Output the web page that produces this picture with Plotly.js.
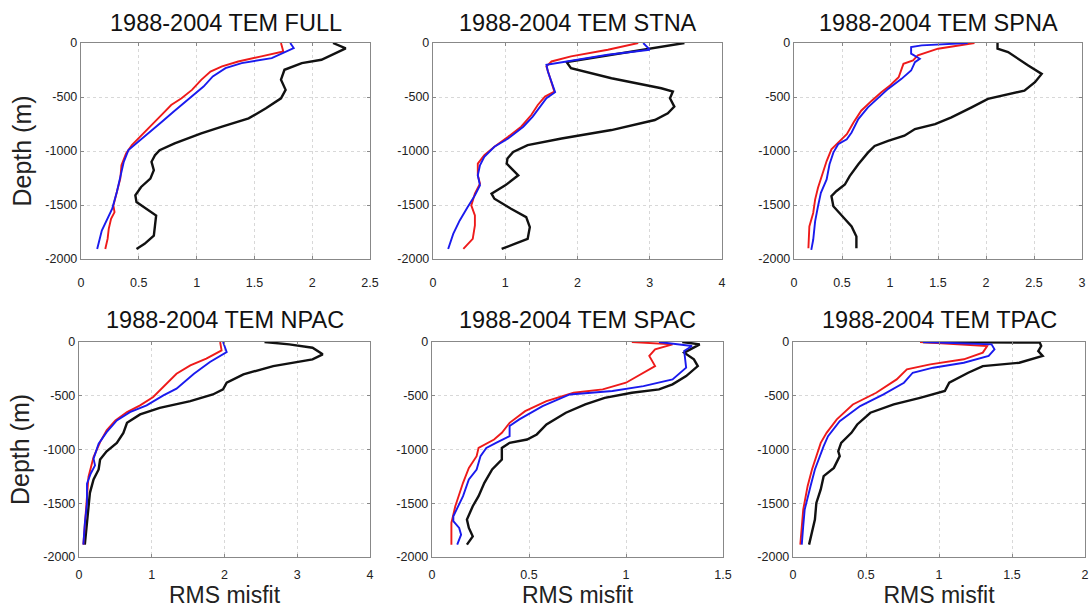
<!DOCTYPE html>
<html>
<head>
<meta charset="utf-8">
<script src="https://cdn.plot.ly/plotly-3.0.1.min.js"></script>
<style>html,body{margin:0;padding:0;background:#fff;}#chart{width:1090px;height:610px;}</style>
</head>
<body>
<div id="chart"></div>
<script>
// ---------- Panel titles ----------
const panelTitles = ["1988-2004 TEM FULL","1988-2004 TEM STNA","1988-2004 TEM SPNA",
                     "1988-2004 TEM NPAC","1988-2004 TEM SPAC","1988-2004 TEM TPAC"];
const xRanges = [[0,2.5],[0,4],[0,3],[0,4],[0,1.5],[0,2]];
const xTicks = [[0,0.5,1,1.5,2,2.5],[0,1,2,3,4],[0,0.5,1,1.5,2,2.5,3],[0,1,2,3,4],[0,0.5,1,1.5],[0,0.5,1,1.5,2]];
const yTickVals = [0,-500,-1000,-1500,-2000];
const yTickText = ["0","-500","-1000","-1500","-2000"];

// ---------- FULL ----------
const full_black_d = [0,-50,-155,-186,-248,-340,-434,-512,-605,-698,-775,-837,-930,-992,-1039,-1100,-1178,-1256,-1333,-1410,-1473,-1535,-1597,-1690,-1783,-1860,-1907];
const full_black_x = [2.18,2.29,2.08,1.91,1.76,1.73,1.77,1.73,1.60,1.45,1.22,1.04,0.81,0.68,0.64,0.61,0.63,0.60,0.52,0.47,0.48,0.57,0.65,0.64,0.63,0.55,0.48];
const full_red_d = [0,-78,-124,-171,-217,-264,-341,-434,-512,-574,-651,-760,-853,-946,-1023,-1132,-1256,-1380,-1504,-1566,-1628,-1721,-1814,-1907];
const full_red_x = [1.73,1.75,1.56,1.36,1.22,1.12,1.04,0.96,0.87,0.78,0.71,0.61,0.52,0.44,0.39,0.35,0.34,0.31,0.28,0.29,0.26,0.24,0.23,0.21];
const full_blue_d = [0,-47,-140,-186,-233,-310,-403,-481,-558,-636,-729,-837,-930,-992,-1101,-1256,-1380,-1535,-1659,-1736,-1907];
const full_blue_x = [1.81,1.84,1.65,1.39,1.25,1.14,1.06,0.97,0.88,0.80,0.70,0.58,0.47,0.41,0.37,0.34,0.31,0.27,0.21,0.18,0.14];

// ---------- STNA ----------
const stna_black_d = [0,-177,-233,-326,-419,-450,-512,-589,-651,-713,-806,-884,-946,-1008,-1070,-1117,-1225,-1318,-1395,-1442,-1535,-1612,-1705,-1814,-1860,-1907];
const stna_black_x = [3.48,1.85,1.91,2.47,3.16,3.32,3.28,3.34,3.25,3.07,2.47,1.78,1.31,1.11,1.03,1.02,1.18,1.00,0.81,0.85,1.08,1.29,1.34,1.31,1.13,0.95];
const stna_red_d = [0,-62,-124,-171,-217,-264,-357,-450,-496,-574,-667,-775,-868,-961,-1039,-1117,-1225,-1302,-1395,-1504,-1597,-1690,-1814,-1907];
const stna_red_x = [2.84,2.42,1.91,1.64,1.57,1.59,1.64,1.68,1.55,1.45,1.36,1.22,1.04,0.85,0.71,0.62,0.62,0.65,0.58,0.53,0.58,0.58,0.55,0.42];
const stna_blue_d = [0,-62,-109,-177,-202,-264,-357,-456,-512,-589,-682,-775,-884,-961,-1054,-1132,-1225,-1318,-1411,-1519,-1643,-1767,-1907];
const stna_blue_x = [2.91,3.00,2.42,1.82,1.57,1.59,1.64,1.69,1.57,1.48,1.38,1.25,1.04,0.85,0.71,0.65,0.62,0.65,0.58,0.48,0.37,0.28,0.21];

// ---------- SPNA ----------
const spna_black_d = [0,-53,-84,-146,-208,-286,-363,-441,-487,-518,-596,-689,-751,-797,-859,-906,-953,-1015,-1123,-1232,-1310,-1372,-1418,-1512,-1590,-1698,-1791,-1900];
const spna_black_x = [2.12,2.12,2.23,2.33,2.44,2.58,2.51,2.40,2.16,2.02,1.85,1.64,1.47,1.26,1.15,0.98,0.84,0.77,0.67,0.58,0.53,0.44,0.39,0.41,0.49,0.60,0.65,0.65];
const spna_red_d = [0,-53,-115,-161,-193,-239,-317,-394,-456,-534,-627,-736,-844,-922,-984,-1093,-1202,-1341,-1450,-1574,-1698,-1900];
const spna_red_x = [1.88,1.50,1.29,1.24,1.14,1.12,1.09,1.00,0.91,0.81,0.70,0.62,0.55,0.46,0.39,0.34,0.30,0.25,0.22,0.20,0.16,0.15];
const spna_blue_d = [0,-22,-37,-99,-146,-177,-255,-332,-425,-503,-596,-705,-829,-891,-937,-1015,-1123,-1263,-1388,-1512,-1652,-1822,-1916];
const spna_blue_x = [1.81,1.33,1.22,1.22,1.31,1.26,1.22,1.12,0.98,0.88,0.77,0.67,0.60,0.55,0.46,0.41,0.37,0.34,0.28,0.25,0.22,0.20,0.18];

// ---------- NPAC ----------
const npac_black_d = [0,-22,-53,-115,-161,-224,-301,-379,-441,-488,-550,-612,-674,-752,-845,-938,-1016,-1093,-1186,-1279,-1403,-1559,-1714,-1885];
const npac_black_x = [2.55,2.89,3.21,3.35,3.21,2.67,2.26,2.03,1.98,1.84,1.53,1.11,0.84,0.66,0.61,0.52,0.38,0.29,0.27,0.20,0.15,0.13,0.10,0.08];
const npac_red_d = [0,-78,-155,-217,-295,-419,-512,-590,-652,-729,-822,-931,-1070,-1256,-1442,-1652,-1885];
const npac_red_x = [1.94,1.96,1.75,1.53,1.34,1.16,1.02,0.84,0.66,0.50,0.38,0.29,0.20,0.13,0.11,0.08,0.06];
const npac_blue_d = [0,-93,-186,-295,-434,-497,-590,-652,-729,-838,-946,-1085,-1148,-1225,-1318,-1504,-1690,-1885];
const npac_blue_x = [1.98,2.03,1.80,1.58,1.34,1.16,0.93,0.70,0.52,0.38,0.27,0.20,0.22,0.16,0.11,0.11,0.08,0.06];

// ---------- SPAC ----------
const spac_black_d = [0,-22,-99,-161,-224,-317,-394,-441,-472,-519,-581,-658,-767,-860,-907,-938,-985,-1093,-1186,-1310,-1434,-1528,-1652,-1730,-1808,-1885];
const spac_black_x = [1.29,1.38,1.30,1.35,1.37,1.31,1.24,1.17,1.03,0.89,0.79,0.69,0.59,0.54,0.49,0.40,0.36,0.36,0.31,0.27,0.24,0.21,0.18,0.19,0.21,0.18];
const spac_red_d = [0,-22,-68,-130,-224,-286,-379,-441,-472,-550,-643,-752,-845,-907,-985,-1062,-1171,-1310,-1528,-1683,-1885];
const spac_red_x = [1.03,1.24,1.15,1.12,1.15,1.09,1.00,0.88,0.73,0.59,0.48,0.40,0.36,0.32,0.24,0.23,0.19,0.16,0.12,0.10,0.10];
const spac_blue_d = [0,-37,-84,-239,-348,-410,-456,-488,-596,-720,-782,-876,-938,-985,-1062,-1186,-1279,-1434,-1621,-1667,-1730,-1792,-1885];
const spac_blue_x = [1.17,1.34,1.30,1.31,1.24,1.09,0.93,0.71,0.57,0.45,0.40,0.40,0.33,0.28,0.25,0.23,0.19,0.16,0.11,0.11,0.14,0.15,0.13];

// ---------- TPAC ----------
const tpac_black_d = [0,-6,-37,-84,-130,-193,-224,-286,-379,-456,-519,-581,-658,-767,-845,-938,-1016,-1062,-1171,-1248,-1372,-1497,-1652,-1776,-1885];
const tpac_black_x = [0.89,1.69,1.70,1.68,1.71,1.55,1.30,1.20,1.07,1.04,0.87,0.69,0.53,0.44,0.40,0.33,0.31,0.32,0.28,0.21,0.19,0.16,0.15,0.13,0.11];
const tpac_red_d = [0,-37,-99,-161,-208,-255,-348,-472,-581,-720,-845,-938,-1186,-1341,-1559,-1714,-1885];
const tpac_red_x = [0.87,1.33,1.30,1.17,0.94,0.78,0.71,0.57,0.41,0.30,0.23,0.19,0.13,0.10,0.07,0.06,0.05];
const tpac_blue_d = [0,-22,-68,-130,-193,-239,-286,-379,-487,-596,-736,-876,-969,-1186,-1341,-1559,-1714,-1885];
const tpac_blue_x = [0.89,1.36,1.38,1.34,1.17,0.96,0.82,0.76,0.62,0.46,0.32,0.24,0.21,0.15,0.12,0.08,0.07,0.06];

const panels = [
  [[full_black_x,full_black_d],[full_red_x,full_red_d],[full_blue_x,full_blue_d]],
  [[stna_black_x,stna_black_d],[stna_red_x,stna_red_d],[stna_blue_x,stna_blue_d]],
  [[spna_black_x,spna_black_d],[spna_red_x,spna_red_d],[spna_blue_x,spna_blue_d]],
  [[npac_black_x,npac_black_d],[npac_red_x,npac_red_d],[npac_blue_x,npac_blue_d]],
  [[spac_black_x,spac_black_d],[spac_red_x,spac_red_d],[spac_blue_x,spac_blue_d]],
  [[tpac_black_x,tpac_black_d],[tpac_red_x,tpac_red_d],[tpac_blue_x,tpac_blue_d]]
];
const lineColors = ["#111111","#ee1a1a","#1a1aee"];
const lineWidths = [2.4,1.9,1.9];

// layout geometry (pixels -> paper)
const W = 1090, H = 610;
const xPix = [[81,370],[433,722],[794,1082],[79,370],[432,723],[793,1085]];
const yPix = [[43,259],[43,259],[43,259],[342,557],[342,557],[342,557]];

const data = [];
const layout = {
  width: W, height: H,
  margin: {l:0, r:0, t:0, b:0},
  paper_bgcolor: "#ffffff",
  plot_bgcolor: "#ffffff",
  showlegend: false,
  font: {family: "Liberation Sans, Arial, sans-serif", color: "#222"},
  annotations: []
};

panels.forEach((series, i) => {
  const k = i + 1;
  const xa = "x" + (k === 1 ? "" : k);
  const ya = "y" + (k === 1 ? "" : k);
  series.forEach((s, j) => {
    data.push({
      type: "scatter", mode: "lines",
      x: s[0], y: s[1],
      xaxis: xa, yaxis: ya,
      line: {color: lineColors[j], width: lineWidths[j]},
      hoverinfo: "skip"
    });
  });
  const xd = [xPix[i][0]/W, xPix[i][1]/W];
  const yd = [1 - yPix[i][1]/H, 1 - yPix[i][0]/H];
  const xaxis = {
    domain: xd, range: xRanges[i], anchor: ya,
    tickvals: xTicks[i], ticktext: xTicks[i].map(String),
    showline: true, mirror: "ticks", linecolor: "#888", linewidth: 1.2,
    ticks: "inside", ticklen: 3, tickcolor: "#888",
    showgrid: true, gridcolor: "#d8d8d8", griddash: "dot", gridwidth: 1,
    zeroline: false, ticklabelstandoff: (i < 3 ? 12 : 6),
    tickfont: {size: 12.5, color: "#222"}
  };
  const yaxis = {
    domain: yd, range: [-2000, 0], anchor: xa,
    tickvals: yTickVals, ticktext: yTickText,
    showline: true, mirror: "ticks", linecolor: "#888", linewidth: 1.2,
    ticks: "inside", ticklen: 3, tickcolor: "#888",
    showgrid: true, gridcolor: "#d8d8d8", griddash: "dot", gridwidth: 1,
    zeroline: false,
    tickfont: {size: 12.5, color: "#222"}
  };
  if (i === 0 || i === 3) {
    yaxis.title = {text: "Depth (m)", font: {size: 25, color: "#222"}, standoff: 6};
  }
  if (i >= 3) {
    xaxis.title = {text: "RMS misfit", font: {size: 23, color: "#222"}, standoff: 0};
  }
  layout["xaxis" + (k === 1 ? "" : k)] = xaxis;
  layout["yaxis" + (k === 1 ? "" : k)] = yaxis;
  layout.annotations.push({
    text: panelTitles[i], xref: "paper", yref: "paper",
    x: (xd[0] + xd[1]) / 2, y: 1 - (i < 3 ? 23 : 320) / H,
    xanchor: "center", yanchor: "middle", showarrow: false,
    font: {size: 23.5, color: "#111"}
  });
});

Plotly.newPlot("chart", data, layout, {staticPlot: true, displayModeBar: false});
</script>
</body>
</html>
